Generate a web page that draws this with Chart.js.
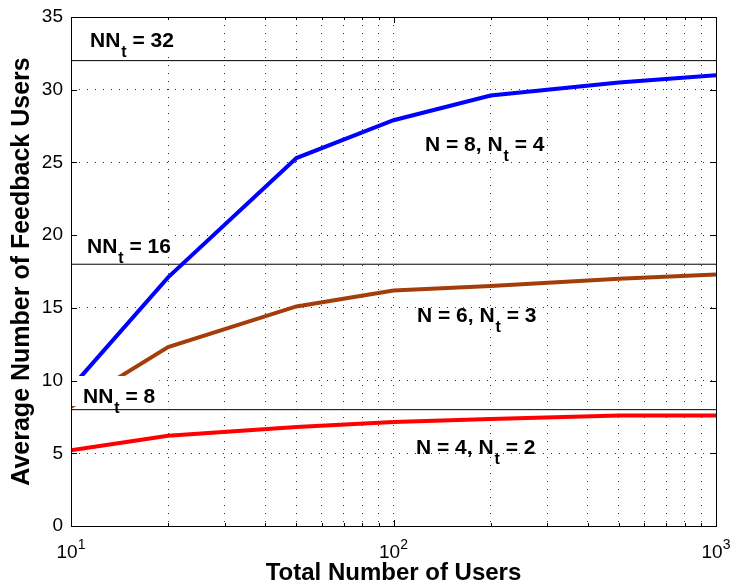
<!DOCTYPE html>
<html>
<head>
<meta charset="utf-8">
<script src="https://cdn.jsdelivr.net/npm/chart.js@4/dist/chart.umd.min.js"></script>
<style>
  body { margin: 0; background: #fff; }
  canvas { display: block; }
</style>
</head>
<body>
<canvas id="fbChart" width="732" height="584"></canvas>
<script>
// total number of users (x) and average feedback users per config
const totalUsers = [10, 20, 50, 100, 200, 500, 1000];
const fbN8 = [9.5, 17.1, 25.3, 27.9, 29.6, 30.5, 31.0];
const fbN6 = [8.2, 12.3, 15.1, 16.2, 16.5, 17.0, 17.3];
const fbN4 = [5.2, 6.2, 6.8, 7.15, 7.36, 7.6, 7.6];
const refLevels = [32, 18, 8];
const xTickValues = [10, 20, 30, 40, 50, 60, 70, 80, 90, 100, 200, 300, 400, 500, 600, 700, 800, 900, 1000];
// decade labels: 10^exponent
const xTickExponents = { 10: '1', 100: '2', 1000: '3' };

const FONT = "'Liberation Sans', Arial, Helvetica, sans-serif";

function pts(ys) {
  return totalUsers.map((x, i) => ({ x: x, y: ys[i] }));
}

// text labels inside the axes (pixel positions)
const notes = [
  { pre: 'NN', sub: 't', post: ' = 32', x: 90, y: 47, bg: true },
  { pre: 'NN', sub: 't', post: ' = 16', x: 87, y: 253, bg: true },
  { pre: 'NN', sub: 't', post: ' = 8', x: 83, y: 403, bg: true },
  { pre: 'N = 8, N', sub: 't', post: ' = 4', x: 425, y: 151 },
  { pre: 'N = 6, N', sub: 't', post: ' = 3', x: 417, y: 322 },
  { pre: 'N = 4, N', sub: 't', post: ' = 2', x: 416, y: 454 }
];

const matlabAxes = {
  id: 'matlabAxes',
  afterDatasetsDraw(chart) {
    const ctx = chart.ctx;
    ctx.save();
    notes.forEach(n => {
      ctx.font = 'bold 21px ' + FONT;
      const w1 = ctx.measureText(n.pre).width;
      const w3 = ctx.measureText(n.post).width;
      ctx.font = 'bold 16px ' + FONT;
      const w2 = ctx.measureText(n.sub).width;
      if (n.bg) {
        ctx.fillStyle = '#fff';
        const left = Math.max(n.x - 11, chart.chartArea.left + 1);
        ctx.fillRect(left, n.y - 27, n.x + w1 + w2 + w3 + 5 - left, 30);
      }
      ctx.fillStyle = '#000';
      ctx.textBaseline = 'alphabetic';
      ctx.textAlign = 'left';
      ctx.font = 'bold 21px ' + FONT;
      ctx.fillText(n.pre, n.x, n.y);
      ctx.font = 'bold 16px ' + FONT;
      ctx.fillText(n.sub, n.x + w1 + 1, n.y + 10);
      ctx.font = 'bold 21px ' + FONT;
      ctx.fillText(n.post, n.x + w1 + w2 + 1, n.y);
    });
    ctx.restore();
  },
  afterDraw(chart) {
    const { ctx, chartArea: { left, right, top, bottom } } = chart;
    const xs = chart.scales.x, ys = chart.scales.y;
    ctx.save();
    ctx.strokeStyle = '#000';
    ctx.lineWidth = 1;
    ctx.beginPath();
    // inward tick marks on all four sides
    xTickValues.forEach(v => {
      const px = Math.round(xs.getPixelForValue(v)) + 0.5;
      const len = xTickExponents[v] ? 6 : 3;
      ctx.moveTo(px, bottom); ctx.lineTo(px, bottom - len);
      ctx.moveTo(px, top); ctx.lineTo(px, top + len);
    });
    ys.ticks.forEach(t => {
      const py = Math.round(ys.getPixelForValue(t.value)) + 0.5;
      ctx.moveTo(left, py); ctx.lineTo(left + 6, py);
      ctx.moveTo(right, py); ctx.lineTo(right - 6, py);
    });
    ctx.stroke();
    ctx.strokeRect(Math.round(left) + 0.5, Math.round(top) + 0.5, Math.round(right - left), Math.round(bottom - top));

    // decade labels with raised exponent
    ctx.fillStyle = '#000';
    ctx.textBaseline = 'alphabetic';
    ctx.textAlign = 'left';
    Object.keys(xTickExponents).forEach(k => {
      const px = xs.getPixelForValue(Number(k));
      ctx.font = '19px ' + FONT;
      const wb = ctx.measureText('10').width;
      ctx.font = '14px ' + FONT;
      const we = ctx.measureText(xTickExponents[k]).width;
      const x0 = px - (wb + we) / 2;
      ctx.font = '19px ' + FONT;
      ctx.fillText('10', x0, bottom + 32);
      ctx.font = '14px ' + FONT;
      ctx.fillText(xTickExponents[k], x0 + wb, bottom + 23);
    });
    ctx.restore();
  }
};

const refSets = refLevels.map(v => ({
  label: 'NNt ' + v,
  data: [{ x: 10, y: v }, { x: 1000, y: v }],
  borderColor: '#000',
  borderWidth: 1,
  pointRadius: 0,
  order: 2
}));

const config = {
  type: 'line',
  data: {
    datasets: [
      { label: 'N = 8, Nt = 4', data: pts(fbN8), borderColor: '#0000ff', borderWidth: 4, pointRadius: 0, order: 0 },
      { label: 'N = 6, Nt = 3', data: pts(fbN6), borderColor: '#a33e0b', borderWidth: 4, pointRadius: 0, order: 0 },
      { label: 'N = 4, Nt = 2', data: pts(fbN4), borderColor: '#ff0000', borderWidth: 4, pointRadius: 0, order: 0 }
    ].concat(refSets)
  },
  options: {
    responsive: false,
    animation: false,
    devicePixelRatio: 1,
    layout: { padding: { top: 17, right: 16, left: 0, bottom: 0 } },
    plugins: {
      legend: { display: false },
      tooltip: { enabled: false }
    },
    scales: {
      x: {
        type: 'logarithmic',
        min: 10,
        max: 1000,
        afterBuildTicks: (scale) => {
          scale.ticks = xTickValues.map(v => ({ value: v }));
        },
        afterFit: (scale) => {
          scale.height = 58;
          scale.paddingLeft = 0;
          scale.paddingRight = 0;
        },
        ticks: {
          autoSkip: false,
          maxRotation: 0,
          callback: () => ''
        },
        grid: { color: 'rgba(0,0,0,0.8)', lineWidth: 1, drawTicks: false },
        border: { display: false, dash: [1, 7] },
        title: {
          display: true,
          text: 'Total Number of Users',
          color: '#000',
          font: { family: FONT, size: 24, weight: 'bold' },
          padding: { top: 0, bottom: -4 }
        }
      },
      y: {
        min: 0,
        max: 35,
        afterFit: (scale) => {
          scale.width = 71;
          scale.paddingTop = 0;
          scale.paddingBottom = 0;
        },
        ticks: {
          stepSize: 5,
          padding: 8,
          color: '#000',
          font: { family: FONT, size: 19 }
        },
        grid: { color: 'rgba(0,0,0,0.8)', lineWidth: 1, drawTicks: false },
        border: { display: false, dash: [1, 7] },
        title: {
          display: true,
          text: 'Average Number of Feedback Users',
          color: '#000',
          font: { family: FONT, size: 25, weight: 'bold' },
          padding: { top: 7, bottom: 0 }
        }
      }
    }
  },
  plugins: [matlabAxes]
};

new Chart(document.getElementById('fbChart'), config);
</script>
</body>
</html>
